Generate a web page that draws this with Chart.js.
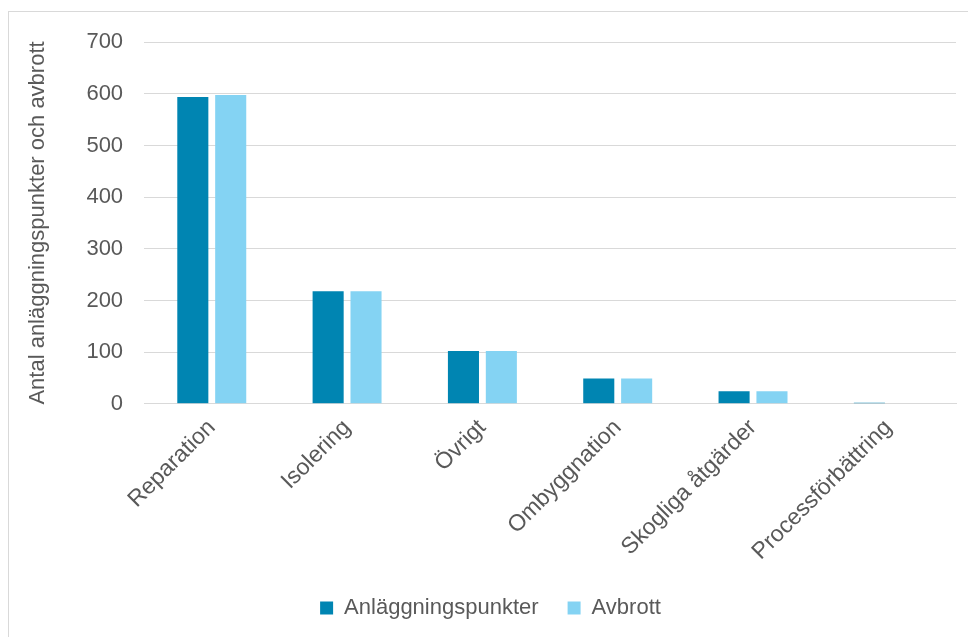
<!DOCTYPE html>
<html>
<head>
<meta charset="utf-8">
<script src="https://cdn.jsdelivr.net/npm/chart.js@4"></script>
<style>
  html, body { margin: 0; padding: 0; background: #fff; overflow: hidden; }
  #ram {
    position: absolute; left: 8px; top: 11px;
    width: 980px; height: 640px;
    border: 1px solid #d9d9d9; box-sizing: border-box;
  }
  #diagram { position: absolute; left: 0; top: -4px; width: 960px; height: 641px; }
</style>
</head>
<body>
<div id="ram"><div id="diagram"><canvas id="graf"></canvas></div></div>
<script>
// kategorier och värden
const kategorier = ['Reparation', 'Isolering', 'Övrigt', 'Ombyggnation', 'Skogliga åtgärder', 'Processförbättring'];
const anlaggningspunkter = [594, 218, 102, 49, 24, 2];
const avbrott = [598, 218, 102, 49, 24, 1];
const yTicks = [0, 100, 200, 300, 400, 500, 600, 700];

const gra = '#595959';
const font = 'Liberation Sans';

const ctx = document.getElementById('graf');
new Chart(ctx, {
    type: 'bar',
    data: {
        labels: kategorier,
        datasets: [{
            label: 'Anläggningspunkter',
            data: anlaggningspunkter,
            backgroundColor: '#0085b2',
            categoryPercentage: 0.56,
            barPercentage: 0.82
        }, {
            label: 'Avbrott',
            data: avbrott,
            backgroundColor: '#84d3f3',
            categoryPercentage: 0.56,
            barPercentage: 0.82
        }]
    },
    options: {
        responsive: true,
        maintainAspectRatio: false,
        animation: false,
        layout: { padding: { left: 16, right: 13, top: 11, bottom: 20 } },
        plugins: {
            tooltip: { enabled: false },
            legend: {
                position: 'bottom',
                labels: {
                    color: gra,
                    font: { family: font, size: 22 },
                    boxWidth: 13, boxHeight: 13,
                    padding: 29
                }
            }
        },
        scales: {
            x: {
                grid: { display: false },
                border: { color: '#d9d9d9' },
                ticks: {
                    color: gra,
                    font: { family: font, size: 23, lineHeight: 1.0 },
                    padding: 4,
                    minRotation: 45, maxRotation: 45
                }
            },
            y: {
                min: 0, max: 700,
                afterBuildTicks: (axis) => { axis.ticks = yTicks.map(v => ({ value: v })); },
                grid: { color: '#d9d9d9', drawTicks: false },
                border: { display: false },
                ticks: {
                    color: gra,
                    font: { family: font, size: 22 },
                    padding: 21
                },
                title: {
                    display: true,
                    text: 'Antal anläggningspunkter och avbrott',
                    color: gra,
                    font: { family: font, size: 22 },
                    padding: { top: 0, bottom: 14 }
                }
            }
        }
    }
});
</script>
</body>
</html>
